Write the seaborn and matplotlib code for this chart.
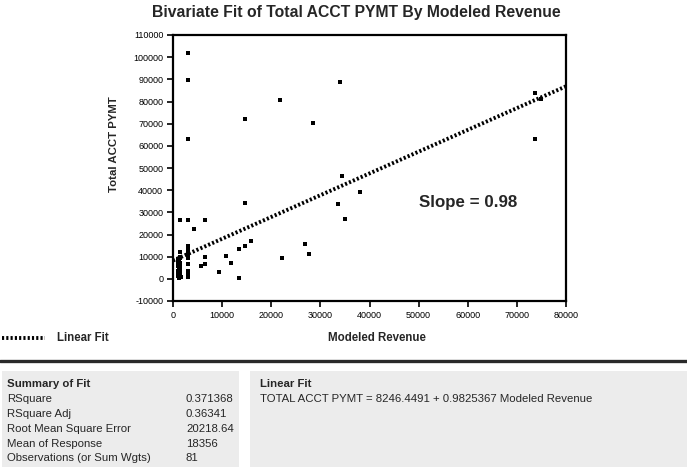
import numpy as np
import pandas as pd
import seaborn as sns
import matplotlib.pyplot as plt
from matplotlib.patches import Rectangle
from matplotlib.lines import Line2D

# Modeled Revenue (x) / Total ACCT PYMT (y)
modeled_revenue = [
    3000, 3000, 3000, 14600, 21800, 28500, 33900, 34500, 33500, 35100,
    38100, 73600, 75000, 73700, 14600, 1500, 3100, 6600, 4300, 22200,
    26900, 27600, 15800, 14600, 13500, 13500, 11800, 10800, 9300, 5700,
    6600, 6600, 3000, 3000, 3000, 3000, 3000, 3000, 3000, 3000,
    3000, 3000, 3000, 1400, 1400, 1000, 1300, 1000, 1400, 1100,
    1500, 1200, 1000, 1300, 1500, 1000, 1200, 1600, 1000, 1100,
    1200, 1300, 1400, 1500, 1000, 1100, 1200, 1300, 1400, 1500,
    3000, 3000, 3000, 3000, 1000, 1200, 1400, 1100, 1300, 3000,
    1500,
]
total_acct_pymt = [
    101700, 89500, 63000, 72000, 80500, 70300, 88600, 46600, 33700, 27100,
    39300, 83700, 81200, 63000, 34300, 26700, 26700, 26700, 22300, 9300,
    15500, 11400, 17000, 14600, 13500, 200, 7000, 10500, 3300, 5700,
    9800, 6500, 14700, 13800, 13000, 12200, 11200, 10200, 9600, 6600,
    3600, 2700, 800, 12200, 9800, 9000, 8000, 7300, 6600, 6000,
    5600, 4300, 3500, 2700, 2200, 1600, 1000, 700, 8500, 7700,
    6300, 5000, 3900, 3000, 2000, 1300, 900, 500, 4600, 7000,
    14000, 12600, 11700, 10700, 6800, 5300, 2400, 1800, 3300, 1500,
    9200,
]

intercept = 8246.4491
slope = 0.9825367
fit_range = [0, 80000]

summary_labels = ["RSquare", "RSquare Adj", "Root Mean Square Error",
                  "Mean of Response", "Observations (or Sum Wgts)"]
summary_values = ["0.371368", "0.36341", "20218.64", "18356", "81"]

df = pd.DataFrame({"Modeled Revenue": modeled_revenue,
                   "Total ACCT PYMT": total_acct_pymt})
fit = pd.DataFrame({"x": fit_range})
fit["y"] = intercept + slope * fit["x"]

sns.set_theme(style="white")
plt.rcParams["font.family"] = ["Liberation Sans", "DejaVu Sans"]
plt.rcParams["axes.unicode_minus"] = False

fig = plt.figure(figsize=(6.87, 4.67), dpi=100)
ax = fig.add_axes([173 / 687, 1 - 301 / 467, 393 / 687, 266 / 467])

dotted = (0, (0.55, 0.55))
sns.lineplot(data=fit, x="x", y="y", ax=ax, color="black", lw=2.8,
             linestyle=dotted, zorder=2)
sns.scatterplot(data=df, x="Modeled Revenue", y="Total ACCT PYMT", ax=ax,
                color="black", marker="s", s=7, linewidth=0, zorder=3)

ax.set_xlim(0, 80000)
ax.set_ylim(-10000, 110000)
ax.set_xticks(np.arange(0, 80001, 10000))
ax.set_yticks(np.arange(-10000, 110001, 10000))
ax.tick_params(axis="both", labelsize=6.5, length=4, width=1.2,
               direction="out", left=True, bottom=True, pad=3, colors="black")
for s in ax.spines.values():
    s.set_color("black")
    s.set_linewidth(1.6)
ax.set_xlabel("")
ax.set_ylabel("")

ax.text((468 - 173) / 393, (301 - 202) / 266, "Slope = 0.98", transform=ax.transAxes,
        fontsize=12.2, fontweight="bold", va="center", ha="center")

fig.text(356 / 687, 1 - 12 / 467, "Bivariate Fit of Total ACCT PYMT By Modeled Revenue",
         ha="center", va="center", fontsize=11.3, fontweight="bold")
fig.text(114 / 687, 1 - 144 / 467, "Total ACCT PYMT", rotation=90,
         ha="center", va="center", fontsize=8.2, fontweight="bold")
fig.text(377 / 687, 1 - 338 / 467, "Modeled Revenue", ha="center", va="center",
         fontsize=8.3, fontweight="bold")

# legend sample
fig.add_artist(Line2D([2 / 687, 45 / 687], [1 - 338 / 467] * 2, color="black",
                      lw=2.8, linestyle=dotted, transform=fig.transFigure))
fig.text(57 / 687, 1 - 338 / 467, "Linear Fit", ha="left", va="center",
         fontsize=8.3, fontweight="bold")

# separator
fig.add_artist(Line2D([0, 1], [1 - 361 / 467] * 2, color="#2a2a2a", lw=2.4,
                      transform=fig.transFigure))

# report boxes
box_bottom = 0
box_top = 1 - 371 / 467
fig.add_artist(Rectangle((2 / 687, box_bottom), (239 - 2) / 687, box_top - box_bottom,
                         transform=fig.transFigure, color="#ececec", lw=0))
fig.add_artist(Rectangle((250 / 687, box_bottom), (687 - 250) / 687, box_top - box_bottom,
                         transform=fig.transFigure, color="#ececec", lw=0))

row_y = [384, 399, 414, 429, 444, 458]
fig.text(7 / 687, 1 - row_y[0] / 467, "Summary of Fit", fontsize=8.2,
         fontweight="bold", va="center")
for i, (lab, val) in enumerate(zip(summary_labels, summary_values)):
    y = 1 - row_y[i + 1] / 467
    fig.text(7 / 687, y, lab, fontsize=8.2, va="center")
    fig.text(186 / 687, y, val, fontsize=8.2, va="center")

fig.text(260 / 687, 1 - row_y[0] / 467, "Linear Fit", fontsize=8.2,
         fontweight="bold", va="center")
fig.text(260 / 687, 1 - row_y[1] / 467,
         "TOTAL ACCT PYMT = %.4f + %.7f Modeled Revenue" % (intercept, slope),
         fontsize=8.2, va="center")

fig.savefig("out.png", dpi=100)
